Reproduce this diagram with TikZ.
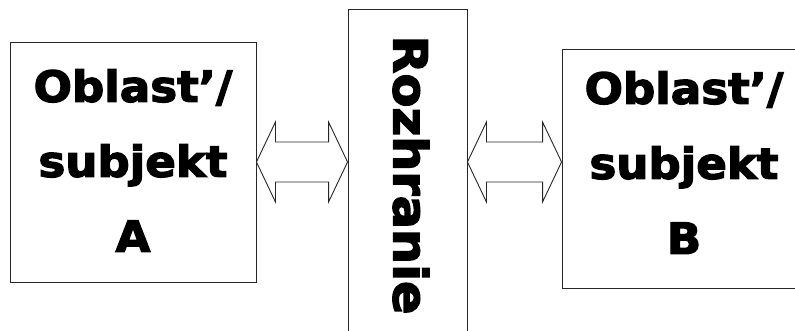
\documentclass[tikz,border=0pt]{standalone}
\usepackage{fontspec}
\newfontfamily\heavy{DejaVu Sans Bold}[FakeBold=3, FakeStretch=1.05]
\usetikzlibrary{calc}
\tikzset{
  panel/.style={draw=black!85, line width=0.9pt, fill=white, inner sep=0pt},
  label/.style={font=\heavy\fontsize{43}{75}\selectfont, align=center, text=black},
  blockarrow/.style={draw=black!85, line width=0.9pt, fill=white, line join=miter}
}
% double-headed block arrow between two tip coordinates
\newcommand\dblarrow[2]{%
  \draw[blockarrow] (#1) -- ++(19,-40) -- ++(0,20) -- ($(#2)+(-19,-20)$)
    -- ++(0,-20) -- (#2) -- ++(-19,40) -- ++(0,-20) -- ($(#1)+(19,20)$)
    -- ++(0,20) -- cycle;}
\begin{document}
\begin{tikzpicture}[x=1pt,y=-1pt]
  \useasboundingbox (0,0) rectangle (795,331);
  \fill[white] (0,0) rectangle (795,331);
  \begin{scope}
    \clip (0,0) rectangle (795,331);
    \node[panel, minimum width=246pt, minimum height=240pt] (A) at (133,162.5) {};
    \node[label] at ($(A.center)+(0,-2)$) {Oblast’/\\subjekt\\A};
    \node[panel, minimum width=119pt, minimum height=340pt] (I) at (407.5,179) {};
    \node[label, font=\heavy\fontsize{47}{50}\selectfont, rotate=-90] at (411,175) {Rozhranie};
    \node[panel, minimum width=244pt, minimum height=239pt] (B) at (684,168.5) {};
    \node[label] at ($(B.center)+(0,-6)$) {Oblast’/\\subjekt\\B};
    \coordinate (a1) at (A.east |- 0,162);
    \coordinate (a2) at (I.west |- 0,162);
    \coordinate (b1) at (I.east |- 0,162);
    \coordinate (b2) at (B.west |- 0,162);
    \dblarrow{a1}{a2}
    \dblarrow{b1}{b2}
  \end{scope}
\end{tikzpicture}
\end{document}
